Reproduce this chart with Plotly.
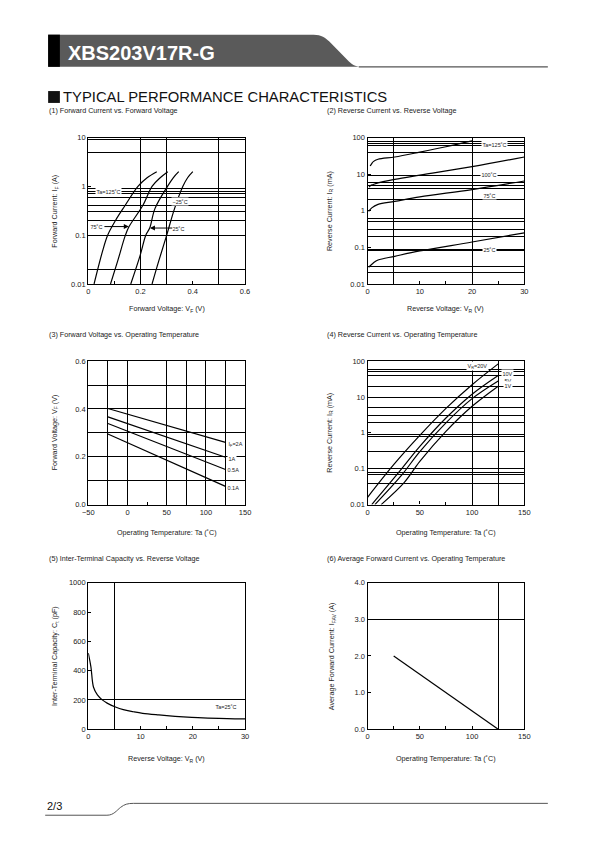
import numpy as np
import plotly.graph_objects as go

W, H = 595, 842
FONT = "Liberation Sans, Arial, sans-serif"

# ---------------- data ----------------
# (1) Forward current vs forward voltage
vf_125 = [0.022, 0.054, 0.074, 0.104, 0.14, 0.19, 0.225, 0.262]
if_125 = [0.01, 0.046, 0.1, 0.2, 0.4, 1.0, 1.5, 2.0]
vf_75 = [0.085, 0.112, 0.142, 0.156, 0.209, 0.244, 0.275, 0.304]
if_75 = [0.01, 0.029, 0.1, 0.15, 0.41, 1.0, 1.5, 2.0]
vf_25 = [0.1625, 0.199, 0.22, 0.235, 0.255, 0.303, 0.325, 0.346]
if_25 = [0.01, 0.0395, 0.1, 0.14, 0.35, 1.0, 1.5, 2.0]
vf_m25 = [0.244, 0.27, 0.3, 0.33, 0.362, 0.38, 0.40]
if_m25 = [0.01, 0.03, 0.1, 0.35, 1.0, 1.5, 2.0]

# (2) Reverse current vs reverse voltage
vr_125 = [0.5, 0.8, 1.1, 2, 5.2, 10, 15, 20]
ir_125 = [16.7, 19.5, 22, 25.5, 29.5, 40, 56, 81]
vr_100 = [0.3, 0.6, 1.1, 2, 5.2, 10, 20, 30]
ir_100 = [4.45, 4.9, 5.2, 5.8, 7.2, 9.4, 16, 29.5]
vr_75 = [0.2, 0.8, 2, 5.2, 10, 20, 30]
ir_75 = [0.96, 1.2, 1.5, 1.8, 2.4, 3.8, 6.5]
vr_25 = [0.2, 1.1, 2, 5.2, 10, 20, 30]
ir_25 = [0.0286, 0.0375, 0.045, 0.057, 0.08, 0.14, 0.25]

# (3) Forward voltage vs operating temperature
ta3 = [-25, 125]
vf_2a = [0.402, 0.260]
vf_1a = [0.367, 0.198]
vf_05a = [0.339, 0.147]
vf_01a = [0.295, 0.076]

# (4) Reverse current vs operating temperature
ta_20v = [0, 25, 50, 75, 100, 125]
ir_20v = [0.016, 0.13, 0.85, 4.8, 22, 84]
ta_10v = [4, 30, 50, 75, 100, 125]
ir_10v = [0.01, 0.08, 0.42, 2.6, 12, 40]
ta_5v = [7, 32, 50, 75, 100, 125]
ir_5v = [0.01, 0.063, 0.3, 1.9, 9, 28]
ta_1v = [13, 35, 50, 75, 100, 125]
ir_1v = [0.01, 0.041, 0.16, 1.1, 5.5, 20]

# (5) Inter-terminal capacity vs reverse voltage
vr_c = [0, 0.5, 1.0, 1.74, 2.67, 3.6, 5.2, 6.7, 8.6, 10.4, 13.5, 16.6, 19.8, 22.9, 26.6, 30]
ct = [520, 426, 286, 234, 200, 178, 151, 133, 119, 108, 97, 88, 81, 76, 72, 70]

# (6) Average forward current vs operating temperature
ta6 = [25, 125]
ifav = [2.0, 0.0]

# tick labels
t1x = [0, 0.2, 0.4, 0.6]; l1x = ["0", "0.2", "0.4", "0.6"]
t1y = [0.01, 0.1, 1, 10]; l1y = ["0.01", "0.1", "1", "10"]
t2x = [0, 10, 20, 30]; l2x = ["0", "10", "20", "30"]
t2y = [0.01, 0.1, 1, 10, 100]; l2y = ["0.01", "0.1", "1", "10", "100"]
t3x = [-50, 0, 50, 100, 150]; l3x = ["\u221250", "0", "50", "100", "150"]
t3y = [0, 0.2, 0.4, 0.6]; l3y = ["0.0", "0.2", "0.4", "0.6"]
t4x = [0, 50, 100, 150]; l4x = ["0", "50", "100", "150"]
t4y = t2y; l4y = l2y
t5x = [0, 10, 20, 30]; l5x = ["0", "10", "20", "30"]
t5y = [0, 200, 400, 600, 800, 1000]; l5y = ["0", "200", "400", "600", "800", "1000"]
t6x = [0, 50, 100, 150]; l6x = ["0", "50", "100", "150"]
t6y = [0, 1, 2, 3, 4]; l6y = ["0.0", "1.0", "2.0", "3.0", "4.0"]

# unlabeled small ticks
s1x = [0.1, 0.3, 0.5]
s2x = [5, 15, 25]
s3x = [-25, 25, 75, 125]
s4x = [25, 75, 125]
s5x = [5, 15, 25]
s6x = [25, 75, 125]

# grid lines (datasheet style)
g1x = [0.2, 0.3, 0.5]
g1y = [9, 5, 0.9, 0.8, 0.7, 0.6, 0.4, 0.3, 0.2, 0.1, 0.02]
g2x = [5, 20]
g2y = [80, 70, 60, 40, 9, 6, 5, 4, 2, 0.6, 0.5, 0.3, 0.2, 0.09, 0.08, 0.03, 0.02]
g3x = [-25, 0, 50, 75, 100, 125]
g3y = [0.1, 0.2, 0.3, 0.4, 0.5]
g4x = [100, 125]
g4y = [60, 50, 40, 20, 10, 5, 3, 2, 0.9, 0.8, 0.3, 0.1, 0.08, 0.07, 0.04]
g5x = [5]
g5y = [200]
g6x = [125]
g6y = [3.0]

# ---------------- layout helpers (page pixel -> paper) ----------------
def fx(p):
    return p / W

def fy(p):
    return 1 - p / H

LX = [fx(84), fx(244)]
RX = [fx(369), fx(529)]
ROW1 = [fy(283), fy(135)]
ROW2 = [fy(506), fy(361)]
ROW3 = [fy(733), fy(585)]

tickfont = dict(family=FONT, size=7.5, color="#222")


def axis(domain, anchor, rng, tickvals, ticktext, grid, log=False):
    d = dict(domain=domain, anchor=anchor, range=rng, showline=True, linecolor="black",
             linewidth=1.3, mirror=True, showgrid=False, zeroline=False,
             tickmode="array", tickvals=tickvals, ticktext=ticktext,
             ticks="inside", ticklen=3, tickcolor="black", tickwidth=1,
             tickfont=tickfont, fixedrange=True,
             minor=dict(tickmode="array", tickvals=grid, showgrid=True,
                        gridcolor="black", gridwidth=1, ticks=""))
    if log:
        d["type"] = "log"
    return d


def tick_axis(base, anchor, rng, tickvals):
    return dict(overlaying=base, anchor=anchor, range=rng, showline=False, showgrid=False,
                zeroline=False, tickmode="array", tickvals=tickvals, showticklabels=False,
                ticks="inside", ticklen=3, tickcolor="black", tickwidth=1, fixedrange=True,
                side="bottom")


fig = go.Figure()
LINE = dict(color="black", width=1.2)

def add(x, y, xa, ya, shape="spline"):
    fig.add_trace(go.Scatter(x=x, y=y, mode="lines", line=dict(LINE, shape=shape),
                             xaxis=xa, yaxis=ya, hoverinfo="skip", showlegend=False))

for xs, ys in [(vf_125, if_125), (vf_75, if_75), (vf_25, if_25), (vf_m25, if_m25)]:
    add(xs, ys, "x", "y")
for xs, ys in [(vr_125, ir_125), (vr_100, ir_100), (vr_75, ir_75), (vr_25, ir_25)]:
    add(xs, ys, "x2", "y2")
for ys in [vf_2a, vf_1a, vf_05a, vf_01a]:
    add(ta3, ys, "x3", "y3", "linear")
for xs, ys in [(ta_20v, ir_20v), (ta_10v, ir_10v), (ta_5v, ir_5v), (ta_1v, ir_1v)]:
    add(xs, ys, "x4", "y4")
add(vr_c, ct, "x5", "y5")
add(ta6, ifav, "x6", "y6", "linear")

# invisible traces so the tick-only overlay axes are drawn
for i, ya in zip(range(7, 13), ["y", "y2", "y3", "y4", "y5", "y6"]):
    fig.add_trace(go.Scatter(x=[None], y=[None], xaxis=f"x{i}", yaxis=ya, mode="lines",
                             hoverinfo="skip", showlegend=False))

rng1x, rng2x, rng3x, rng4x, rng5x, rng6x = [0, 0.6], [0, 30], [-50, 150], [0, 150], [0, 30], [0, 150]

layout = dict(
    width=W, height=H, margin=dict(l=0, r=0, t=0, b=0),
    paper_bgcolor="white", plot_bgcolor="white", showlegend=False,
    font=dict(family=FONT, color="#222"),
    xaxis=axis(LX, "y", rng1x, t1x, l1x, g1x),
    yaxis=axis(ROW1, "x", [-2, 1], t1y, l1y, g1y, log=True),
    xaxis2=axis(RX, "y2", rng2x, t2x, l2x, g2x),
    yaxis2=axis(ROW1, "x2", [-2, 2], t2y, l2y, g2y, log=True),
    xaxis3=axis(LX, "y3", rng3x, t3x, l3x, g3x),
    yaxis3=axis(ROW2, "x3", [0, 0.6], t3y, l3y, g3y),
    xaxis4=axis(RX, "y4", rng4x, t4x, l4x, g4x),
    yaxis4=axis(ROW2, "x4", [-2, 2], t4y, l4y, g4y, log=True),
    xaxis5=axis(LX, "y5", rng5x, t5x, l5x, g5x),
    yaxis5=axis(ROW3, "x5", [0, 1000], t5y, l5y, g5y),
    xaxis6=axis(RX, "y6", rng6x, t6x, l6x, g6x),
    yaxis6=axis(ROW3, "x6", [0, 4], t6y, l6y, g6y),
    xaxis7=tick_axis("x", "y", rng1x, s1x),
    xaxis8=tick_axis("x2", "y2", rng2x, s2x),
    xaxis9=tick_axis("x3", "y3", rng3x, s3x),
    xaxis10=tick_axis("x4", "y4", rng4x, s4x),
    xaxis11=tick_axis("x5", "y5", rng5x, s5x),
    xaxis12=tick_axis("x6", "y6", rng6x, s6x),
)
fig.update_layout(**layout)

ann = []
def pa(text, x, y, size=7.2, angle=0, xanchor="center", color="#222"):
    ann.append(dict(text=text, x=fx(x), y=fy(y), xref="paper", yref="paper",
                    showarrow=False, textangle=angle, xanchor=xanchor, yanchor="middle",
                    font=dict(family=FONT, size=size, color=color)))

# subtitles
pa("(1) Forward Current vs. Forward Voltage", 42, 108, xanchor="left")
pa("(2) Reverse Current vs. Reverse Voltage", 326, 108, xanchor="left")
pa("(3) Forward Voltage vs. Operating Temperature", 42, 334, xanchor="left")
pa("(4) Reverse Current vs. Operating Temperature", 326, 334, xanchor="left")
pa("(5) Inter-Terminal Capacity vs. Reverse Voltage", 42, 560, xanchor="left")
pa("(6) Average Forward Current vs. Operating Temperature", 326, 560, xanchor="left")
# axis titles
pa("Forward Voltage: V<sub>F</sub> (V)", 164, 308)
pa("Reverse Voltage: V<sub>R</sub> (V)", 449, 308)
pa("Operating Temperature: Ta (\u02daC)", 164, 534)
pa("Operating Temperature: Ta (\u02daC)", 449, 534)
pa("Reverse Voltage: V<sub>R</sub> (V)", 164, 763)
pa("Operating Temperature: Ta (\u02daC)", 449, 763)
pa("Forward Current: I<sub>F</sub> (A)", 50, 209, angle=-90)
pa("Reverse Current: I<sub>R</sub> (mA)", 330, 209, angle=-90)
pa("Forward Voltage: V<sub>F</sub> (V)", 50, 433, angle=-90)
pa("Reverse Current: I<sub>R</sub> (mA)", 331, 433, angle=-90)
pa("Inter-Terminal Capacity: C<sub>t</sub> (pF)", 50, 659, angle=-90)
pa("Average Forward Current: I<sub>FAV</sub> (A)", 333, 659, angle=-90)

# in-plot labels
def da(text, x, y, xa, ya, log=False, size=5.5):
    ann.append(dict(text=text, x=x, y=np.log10(y) if log else y, xref=xa, yref=ya,
                    showarrow=False, bgcolor="white", borderpad=0.5,
                    font=dict(family=FONT, size=size, color="#222")))

da("Ta=125\u02daC", 0.078, 0.77, "x", "y", log=True)
da("\u221225\u02daC", 0.35, 0.48, "x", "y", log=True)
da("75\u02daC", 0.032, 0.15, "x", "y", log=True)
da("25\u02daC", 0.347, 0.14, "x", "y", log=True)
ann.append(dict(x=0.155, y=np.log10(0.15), ax=0.056, ay=np.log10(0.15), xref="x", yref="y",
                axref="x", ayref="y", showarrow=True, arrowhead=2, arrowsize=1,
                arrowwidth=1, arrowcolor="black", text=""))
ann.append(dict(x=0.236, y=np.log10(0.14), ax=0.327, ay=np.log10(0.14), xref="x", yref="y",
                axref="x", ayref="y", showarrow=True, arrowhead=2, arrowsize=1,
                arrowwidth=1, arrowcolor="black", text=""))

da("Ta=125\u02daC", 24.2, 63, "x2", "y2", log=True)
da("100\u02daC", 23.3, 9.6, "x2", "y2", log=True)
da("75\u02daC", 23.3, 2.66, "x2", "y2", log=True)
da("25\u02daC", 23.3, 0.087, "x2", "y2", log=True)

da("I<sub>F</sub>=2A", 138, 0.254, "x3", "y3")
da("1A", 133.5, 0.194, "x3", "y3")
da("0.5A", 135.5, 0.145, "x3", "y3")
da("0.1A", 135.5, 0.07, "x3", "y3")

da("V<sub>R</sub>=20V", 105, 72, "x4", "y4", log=True)
da("10V", 134, 46, "x4", "y4", log=True)
da("5V", 134, 29, "x4", "y4", log=True)
da("1V", 134, 20.5, "x4", "y4", log=True)

da("Ta=25\u02daC", 26.3, 155, "x5", "y5")

# header & footer text
pa("<b>XBS203V17R-G</b>", 61, 50, size=20, xanchor="left", color="white")
pa("TYPICAL PERFORMANCE CHARACTERISTICS", 56, 94, size=14.8, xanchor="left", color="#111")
pa("2/3", 40, 811, size=11, xanchor="left", color="#111")

fig.update_layout(annotations=ann)

def P(x, y):
    return f"{fx(x):.5f},{fy(y):.5f}"

shapes = []
# header gray band
path = ("M " + P(43, 31) + " L " + P(314, 31) + " C " + P(322, 31) + " " + P(326, 34) + " " + P(330, 38)
        + " L " + P(350, 58) + " C " + P(354, 62) + " " + P(358, 63.5) + " " + P(365, 63.5)
        + " L " + P(43, 63.5) + " Z")
shapes.append(dict(type="path", path=path, xref="paper", yref="paper",
                   fillcolor="#5a5a5a", line=dict(width=0)))
shapes.append(dict(type="rect", x0=fx(43), x1=fx(55), y0=fy(63.5), y1=fy(31), xref="paper",
                   yref="paper", fillcolor="black", line=dict(width=0)))
shapes.append(dict(type="line", x0=fx(360), x1=fx(553), y0=fy(63.5), y1=fy(63.5), xref="paper",
                   yref="paper", line=dict(color="#555", width=1.2)))
# heading square
shapes.append(dict(type="rect", x0=fx(43), x1=fx(55), y0=fy(100), y1=fy(88), xref="paper",
                   yref="paper", fillcolor="#111", line=dict(width=0)))
# footer line
fpath = ("M " + P(40, 820) + " L " + P(103, 820) + " C " + P(110, 820) + " " + P(113, 815) + " "
         + P(117, 812) + " C " + P(121, 809) + " " + P(124, 808) + " " + P(130, 808) + " L " + P(553, 808))
shapes.append(dict(type="path", path=fpath, xref="paper", yref="paper",
                   line=dict(color="#555", width=1)))
fig.update_layout(shapes=shapes)

# pin the figure to the page's top-left corner (no body margin / scrollbars)
post = ("document.documentElement.style.overflow='hidden';"
        "document.body.style.margin='0';document.body.style.overflow='hidden';"
        "var gd=document.getElementById('{plot_id}');"
        "gd.style.position='fixed';gd.style.left='0px';gd.style.top='0px';")
fig.write_html("out.html", post_script=post, config={"displayModeBar": False})
